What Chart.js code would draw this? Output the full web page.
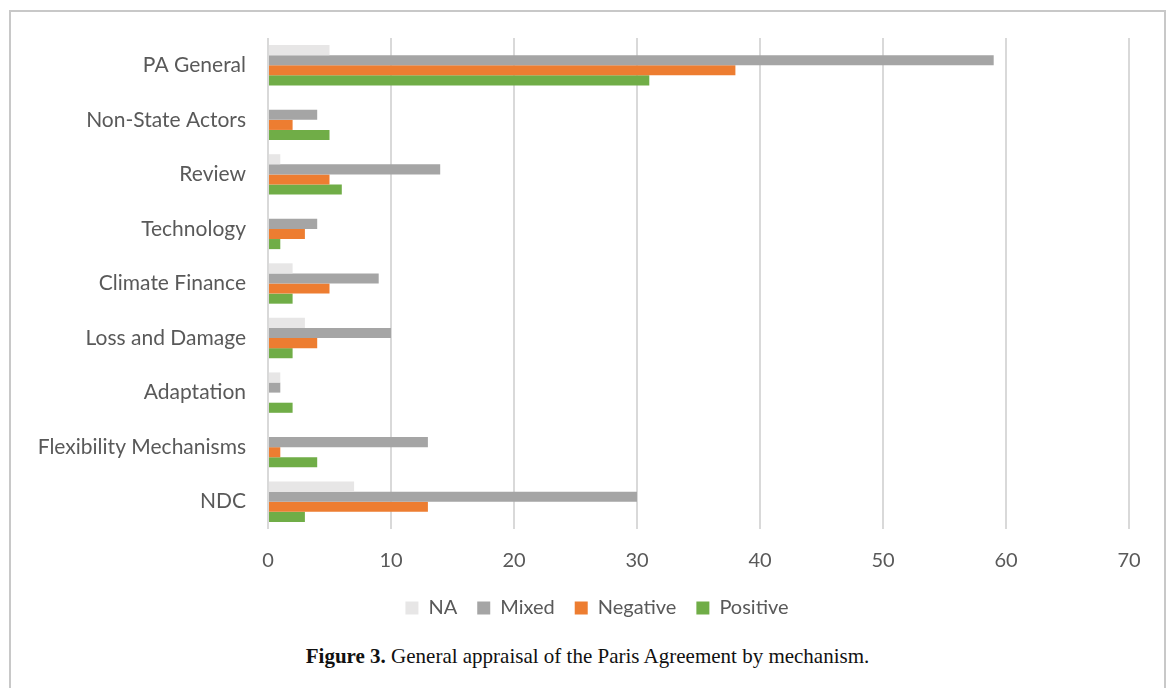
<!DOCTYPE html>
<html>
<head>
<meta charset="utf-8">
<script src="https://cdn.jsdelivr.net/npm/chart.js@4.4.0/dist/chart.umd.min.js"></script>
<style>
    body { margin: 0; background: #fff; }
    #frame {
        position: absolute;
        left: 9px; top: 10px;
        width: 1153px; height: 700px;
        border: 2px solid #c8c8c8;
        border-bottom: none;
    }
    #chart-box {
        position: absolute;
        left: 0; top: 0;
        width: 1153px; height: 616px;
    }
    #caption {
        position: absolute;
        left: 0; top: 632px;
        width: 1153px;
        text-align: center;
        font-family: "Liberation Serif", "DejaVu Serif", serif;
        font-size: 21px;
        color: #111;
    }
</style>
</head>
<body>
<div id="frame">
    <div id="chart-box"><canvas id="chart"></canvas></div>
    <div id="caption"><b>Figure 3.</b> General appraisal of the Paris Agreement by mechanism.</div>
</div>
<script>
// Categories, top to bottom
const mechanisms = ['PA General', 'Non-State Actors', 'Review', 'Technology', 'Climate Finance',
    'Loss and Damage', 'Adaptation', 'Flexibility Mechanisms', 'NDC'];

// Counts per appraisal
const naCounts       = [5, 0, 1, 0, 2, 3, 1, 0, 7];
const mixedCounts    = [59, 4, 14, 4, 9, 10, 1, 13, 30];
const negativeCounts = [38, 2, 5, 3, 5, 4, 0, 1, 13];
const positiveCounts = [31, 5, 6, 1, 2, 2, 2, 4, 3];

const xTicks = [0, 10, 20, 30, 40, 50, 60, 70];

const fontFamily = 'Lato, "Open Sans", sans-serif';

const bar = (label, data, color) => ({
    label: label,
    data: data,
    backgroundColor: color,
    borderWidth: 0,
    categoryPercentage: 0.74,
    barPercentage: 1.0
});

// Excel centres the legend a bit further right than Chart.js does
const legendNudge = {
    id: 'legendNudge',
    afterLayout(chart) {
        chart.legend.left += 27;
        chart.legend.right += 27;
    }
};

new Chart(document.getElementById('chart').getContext('2d'), {
    type: 'bar',
    data: {
        labels: mechanisms,
        datasets: [
            bar('NA', naCounts, '#e7e6e6'),
            bar('Mixed', mixedCounts, '#a5a5a5'),
            bar('Negative', negativeCounts, '#ed7d31'),
            bar('Positive', positiveCounts, '#70ad47')
        ]
    },
    plugins: [legendNudge],
    options: {
        indexAxis: 'y',
        responsive: true,
        maintainAspectRatio: false,
        animation: false,
        layout: { padding: { top: 26, right: 35, left: 0, bottom: 0 } },
        plugins: {
            legend: {
                position: 'bottom',
                labels: {
                    color: '#595959',
                    font: { family: fontFamily, size: 20 },
                    boxWidth: 13,
                    boxHeight: 13,
                    padding: 20
                }
            },
            tooltip: { enabled: false }
        },
        scales: {
            x: {
                min: 0,
                max: 70,
                afterBuildTicks: (scale) => {
                    scale.ticks = xTicks.map(v => ({ value: v }));
                },
                afterFit: (scale) => { scale.height = 49; },
                ticks: {
                    color: '#595959',
                    font: { family: fontFamily, size: 20 },
                    padding: 20
                },
                grid: {
                    color: '#d9d9d9',
                    lineWidth: 2,
                    drawTicks: false
                },
                border: { display: false }
            },
            y: {
                afterFit: (scale) => {
                    scale.width = 257;
                    scale.paddingTop = 0;
                    scale.paddingBottom = 0;
                },
                ticks: {
                    color: '#595959',
                    font: { family: fontFamily, size: 21 },
                    padding: 22
                },
                grid: { display: false, drawTicks: false },
                border: { display: false }
            }
        }
    }
});
</script>
</body>
</html>
